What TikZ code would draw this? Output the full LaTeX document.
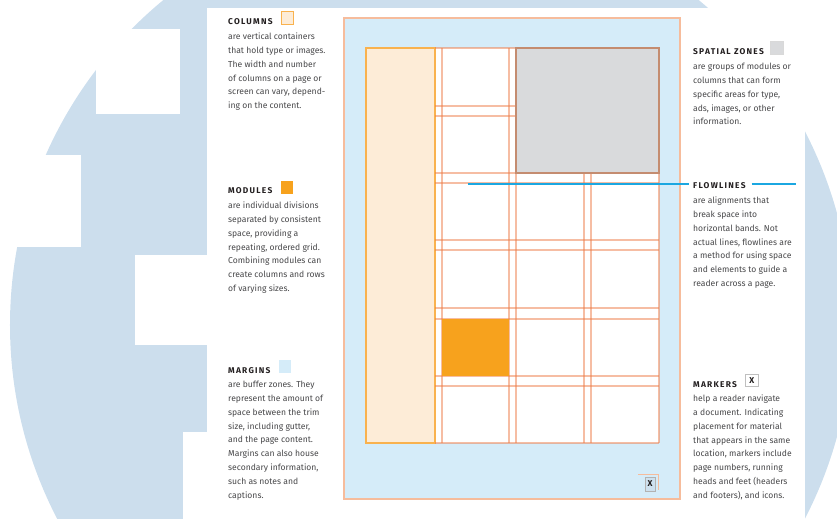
\documentclass[tikz,border=0pt]{standalone}
\usepackage{fontspec}
\setmainfont{Fira Sans}
\newfontfamily\headfont[LetterSpace=15]{Fira Sans}
\usepackage{xcolor}
\usetikzlibrary{positioning}

\definecolor{bgblue}{RGB}{204,222,237}
\definecolor{marginblue}{RGB}{213,236,249}
\definecolor{pageedge}{RGB}{246,188,156}
\definecolor{gridline}{RGB}{238,124,72}
\definecolor{colfill}{RGB}{253,236,215}
\definecolor{coledge}{RGB}{249,178,78}
\definecolor{modfill}{RGB}{247,162,29}
\definecolor{zonefill}{RGB}{217,218,220}
\definecolor{zoneedge}{RGB}{196,140,112}
\definecolor{flowblue}{RGB}{27,167,225}
\definecolor{headink}{RGB}{35,31,32}
\definecolor{bodyink}{RGB}{72,72,74}

\newcommand{\firstline}{\rule{0pt}{7bp}}

\tikzset{
  headtxt/.style={font=\headfont\bfseries\fontsize{8.4}{10}\selectfont, text=headink, inner sep=0, anchor=base west},
  bodytxt/.style={font=\fontsize{8.6}{14}\selectfont, text=bodyink, inner sep=0, align=left, anchor=north west},
  swatch/.style={minimum size=12.5bp, inner sep=0, anchor=south west},
  markx/.style={font=\bfseries\fontsize{8.5}{9}\selectfont, text=headink},
  gridrule/.style={draw=gridline, draw opacity=0.5, line width=1.3bp},
  flowline/.style={flowblue, line width=1.3bp}
}

\begin{document}
\begin{tikzpicture}[x=1bp, y=-1bp]
  \useasboundingbox (0,0) rectangle (837,519);

  % Background disc with white cut-outs
  \begin{scope}
    \clip (0,0) rectangle (837,519);
    \fill[bgblue] (431,325) circle [radius=421bp];
    \fill[white] (207,8) rectangle (805,525);
    \fill[white] (96,29) rectangle (180,114);
    \fill[white] (-5,155) rectangle (81,247);
    \fill[white] (135,255) rectangle (207,345);
    \fill[white] (183,432) rectangle (207,525);
  \end{scope}

  % Page and margins
  \filldraw[fill=marginblue, draw=pageedge, line width=1.3bp] (344,18) rectangle (680,499);
  \fill[white] (435,48) rectangle (659,443);

  % Column
  \filldraw[fill=colfill, draw=coledge, line width=1.2bp] (366,48) rectangle (435,443);

  % Grid lines
  \foreach \gx in {442,509,516,584,591,659}
    \draw[gridrule] (\gx,48) -- (\gx,443);
  \foreach \gy in {48,106,116,173,183,240,250,308,319,376,386,443}
    \draw[gridrule] (435,\gy) -- (659,\gy);

  % Module and spatial zone
  \fill[modfill] (442,319) rectangle (509,376);
  \filldraw[fill=zonefill, draw=zoneedge, line width=1.2bp] (516,48) rectangle (659,173);

  % Page marker
  \draw[pageedge, line width=0.8bp] (638,474) -- (658,474) -- (658,490);
  \node[markx, draw=black!30, fill=bgblue!80!marginblue, line width=0.8bp, minimum width=10bp, minimum height=14bp, inner sep=0]
    (pagemark) at (650,484) {X};

  % Left legends
  \node[headtxt] (colhead) at (228,25) {COLUMNS};
  \node[swatch, fill=colfill, draw=coledge, line width=1bp] (colsw) at ([xshift=8bp]colhead.base east) {};
  \node[bodytxt] (colbody) at (228,32) {\firstline are vertical containers\\that hold type or images.\\The width and number\\of columns on a page or\\screen can vary, depend-\\ing on the content.};

  \node[headtxt] (modhead) at (228,194) {MODULES};
  \node[swatch, fill=modfill] (modsw) at ([xshift=8bp]modhead.base east) {};
  \node[bodytxt] (modbody) at (228,201) {\firstline are individual divisions\\separated by consistent\\space, providing a\\repeating, ordered grid.\\Combining modules can\\create columns and rows\\of varying sizes.};

  \node[headtxt] (marhead) at (228,373) {MARGINS};
  \node[swatch, fill=marginblue] (marsw) at ([xshift=8bp]marhead.base east) {};
  \node[bodytxt] (marbody) at (228,380) {\firstline are buffer zones. They\\represent the amount of\\space between the trim\\size, including gutter,\\and the page content.\\Margins can also house\\secondary information,\\such as notes and\\captions.};

  % Right legends
  \node[headtxt] (zonhead) at (693,55) {SPATIAL ZONES};
  \node[swatch, fill=zonefill, draw=black!15, line width=1bp] (zonsw) at ([xshift=6bp]zonhead.base east) {};
  \node[bodytxt] (zonbody) at (693,62) {\firstline are groups of modules or\\columns that can form\\specific areas for type,\\ads, images, or other\\information.};

  \node[headtxt] (flowhead) at (693,189) {FLOWLINES};
  \node[bodytxt] (flowbody) at (693,196) {\firstline are alignments that\\break space into\\horizontal bands. Not\\actual lines, flowlines are\\a method for using space\\and elements to guide a\\reader across a page.};

  \node[headtxt] (markhead) at (693,387) {MARKERS};
  \node[swatch, markx, fill=white, draw=black!25, line width=0.8bp]
    (marksw) at ([xshift=8bp]markhead.base east) {X};
  \node[bodytxt] (markbody) at (693,394) {\firstline help a reader navigate\\a document. Indicating\\placement for material\\that appears in the same\\location, markers include\\page numbers, running\\heads and feet (headers\\and footers), and icons.};

  % Flowline
  \coordinate (flowstart) at (468,184);
  \coordinate (flowend) at (796,184);
  \draw[flowline] (flowstart) -- ([xshift=-4bp]flowstart -| flowhead.west);
  \draw[flowline] ([xshift=6bp]flowend -| flowhead.east) -- (flowend);
\end{tikzpicture}
\end{document}
